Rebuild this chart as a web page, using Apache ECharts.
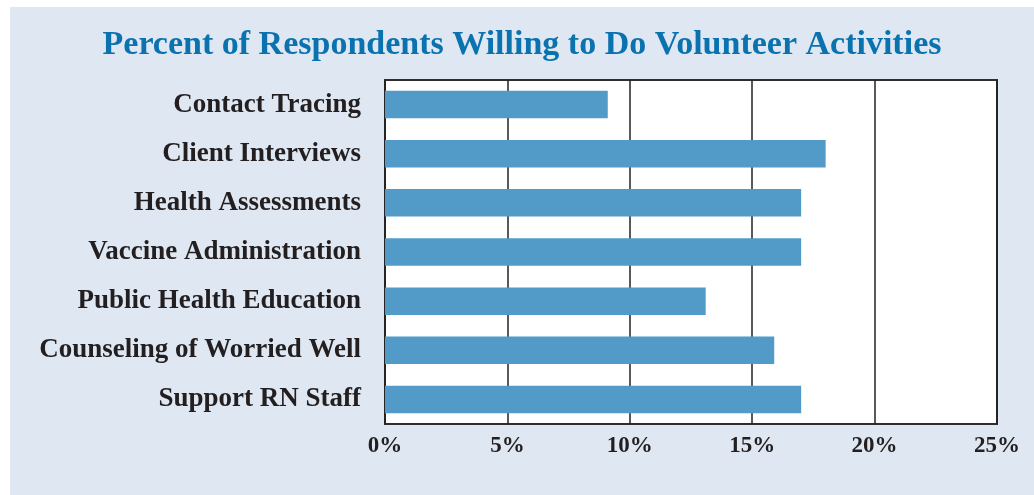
<!DOCTYPE html>
<html><head><meta charset="utf-8">
<script src="https://cdn.jsdelivr.net/npm/echarts@6/dist/echarts.min.js"></script>
<style>html,body{margin:0;padding:0;background:#fff;}#c{position:absolute;left:10px;top:7px;width:1024px;height:488px;background:#dfe8f2;}</style>
</head><body><div id="c"></div>
<script>
const categories = ["Contact Tracing","Client Interviews","Health Assessments","Vaccine Administration","Public Health Education","Counseling of Worried Well","Support RN Staff"];
const values = [9.1, 18, 17, 17, 13.1, 15.9, 17];
const titleText = "Percent of Respondents Willing to Do Volunteer Activities";
const chart = echarts.init(document.getElementById('c'));
const serif = "'Liberation Serif','DejaVu Serif',serif";
chart.setOption({
  animation:false,
  title:{text:titleText,left:'center',top:16,textStyle:{fontFamily:serif,fontWeight:'bold',fontSize:34,color:'#0b72b0'}},
  grid:{left:375,right:37,top:73,bottom:71,containLabel:false,show:true,backgroundColor:'#fff',borderColor:'#2e2e2e',borderWidth:2},
  xAxis:{type:'value',min:0,max:25,interval:5,
    axisLabel:{formatter:'{value}%',fontFamily:serif,fontWeight:'bold',fontSize:23,color:'#231f20',margin:11},
    axisLine:{show:false},axisTick:{show:false},
    splitLine:{show:true,lineStyle:{color:'#222',width:1.5}}},
  yAxis:{type:'category',data:categories,inverse:true,
    axisLabel:{fontFamily:serif,fontWeight:'bold',fontSize:27,color:'#231f20',margin:24},
    axisLine:{show:false},axisTick:{show:false}},
  series:[{type:'bar',data:values,barWidth:'56%',itemStyle:{color:'#529bc8'}}]
});
</script></body></html>
